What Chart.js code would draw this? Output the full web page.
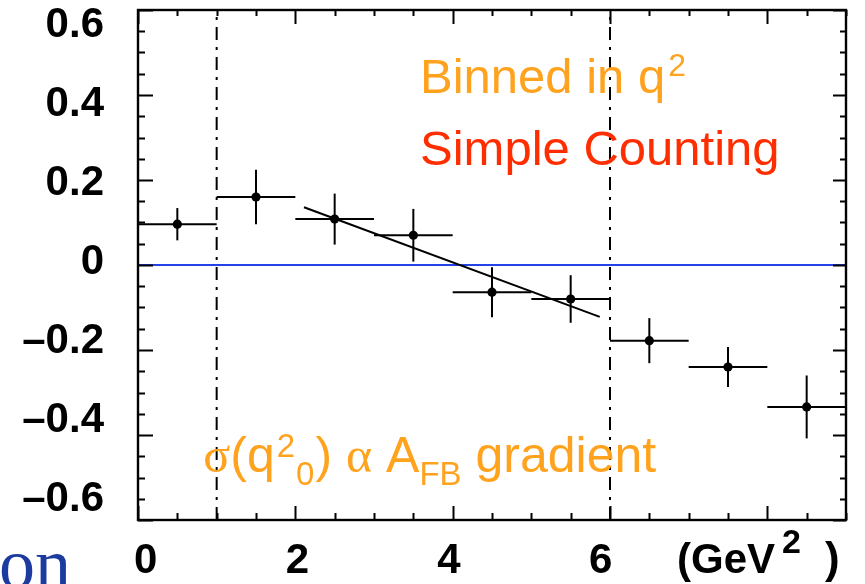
<!DOCTYPE html>
<html>
<head>
<meta charset="utf-8">
<script src="https://cdn.jsdelivr.net/npm/chart.js@4"></script>
<style>
  html, body { margin: 0; padding: 0; background: #fff; overflow: hidden; }
  canvas { display: block; }
</style>
</head>
<body>
<canvas id="afbChart" width="865" height="584"></canvas>
<script>
// q^2 bins (GeV^2) and the measured forward-backward asymmetry per bin
const binLow    = [0, 1, 2, 3, 4, 5, 6, 7, 8];
const binHigh   = [1, 2, 3, 4, 5, 6, 7, 8, 9];
const binCenter = [0.5, 1.5, 2.5, 3.5, 4.5, 5.5, 6.5, 7.5, 8.5];
const afb       = [0.096, 0.160, 0.108, 0.070, -0.064, -0.080, -0.178, -0.240, -0.334];
const afbErr    = [0.038, 0.064, 0.060, 0.062, 0.059, 0.056, 0.053, 0.047, 0.074];

// straight-line fit through the zero crossing
const fitX = [2.11, 5.87];
const fitY = [0.136, -0.122];

// boundaries of the fit window
const fitWindow = [1, 6];

// axis tick labels
const xTickLabels = [0, 2, 4, 6];
const yTickLabels = [0.6, 0.4, 0.2, 0, -0.2, -0.4, -0.6];

const SANS  = '"Liberation Sans", Arial, Helvetica, sans-serif';
const SERIF = '"Liberation Serif", "Times New Roman", serif';
const ORANGE = '#ffa31f';
const RED    = '#ff2e00';

// ---- datasets -------------------------------------------------------------
const datasets = [];

// measured points
datasets.push({
  label: 'AFB',
  data: binCenter.map((x, i) => ({ x, y: afb[i] })),
  pointRadius: 4.6,
  pointBackgroundColor: '#000',
  pointBorderColor: '#000',
  pointBorderWidth: 0,
  showLine: false,
  order: 0
});

// error bars (vertical) and bin widths (horizontal)
binCenter.forEach((x, i) => {
  datasets.push({
    data: [{ x, y: afb[i] - afbErr[i] }, { x, y: afb[i] + afbErr[i] }],
    showLine: true, borderColor: '#000', borderWidth: 2, pointRadius: 0, order: 1
  });
  datasets.push({
    data: [{ x: binLow[i], y: afb[i] }, { x: binHigh[i], y: afb[i] }],
    showLine: true, borderColor: '#000', borderWidth: 2, pointRadius: 0, order: 1
  });
});

// linear fit
datasets.push({
  data: fitX.map((x, i) => ({ x, y: fitY[i] })),
  showLine: true, borderColor: '#000', borderWidth: 2, pointRadius: 0, order: 2
});

// dash-dotted fit window edges
fitWindow.forEach(x => {
  datasets.push({
    data: [{ x, y: -0.6 }, { x, y: 0.6 }],
    showLine: true, borderColor: '#000', borderWidth: 2,
    borderDash: [13, 7, 3, 7], pointRadius: 0, order: 3
  });
});

// zero line
datasets.push({
  data: [{ x: 0, y: 0 }, { x: 9, y: 0 }],
  showLine: true, borderColor: '#2443e6', borderWidth: 2.2, pointRadius: 0, order: 4
});

// ---- helpers --------------------------------------------------------------
function drawRuns(ctx, x, y, runs) {
  ctx.textAlign = 'left';
  ctx.textBaseline = 'alphabetic';
  for (const r of runs) {
    ctx.font = r.font;
    ctx.fillStyle = r.color;
    ctx.fillText(r.t, x, y + (r.dy || 0));
    x += ctx.measureText(r.t).width + (r.gap || 0);
  }
}

function fmtY(v) {
  if (v === 0) return '0';
  return (v < 0 ? '\u2013' : '') + Math.abs(v).toFixed(1);
}

// ROOT-style frame with inward ticks, labels and annotations
const framePlugin = {
  id: 'frame',
  afterDraw(chart) {
    const { ctx, chartArea: a, scales } = chart;
    const { x, y, xLab, yLab } = scales;
    ctx.save();
    ctx.strokeStyle = '#000';
    ctx.lineCap = 'butt';

    // ticks on x (every 0.5, long every 2)
    ctx.lineWidth = 2;
    for (let k = 0; k <= 18; k++) {
      const px = Math.round(x.getPixelForValue(k * 0.5)) + 0.5;
      const major = k % 4 === 0;
      ctx.beginPath();
      ctx.moveTo(px, a.bottom); ctx.lineTo(px, a.bottom - (major ? 14 : 7));
      ctx.moveTo(px, a.top);    ctx.lineTo(px, a.top + (major ? 14 : 6));
      ctx.stroke();
    }
    // ticks on y (every 0.05, long every 0.2)
    for (let k = -12; k <= 12; k++) {
      const py = Math.round(y.getPixelForValue(k * 0.05)) + 0.5;
      const major = k % 4 === 0;
      ctx.beginPath();
      ctx.moveTo(a.left, py);  ctx.lineTo(a.left + (major ? 15 : 7), py);
      ctx.moveTo(a.right, py); ctx.lineTo(a.right - (major ? 13 : 6), py);
      ctx.stroke();
    }

    // frame
    ctx.lineWidth = 2.4;
    ctx.strokeRect(a.left, a.top, a.right - a.left, a.bottom - a.top);

    // y labels
    ctx.fillStyle = '#000';
    ctx.font = `bold 42px ${SANS}`;
    ctx.textAlign = 'right';
    ctx.textBaseline = 'middle';
    yTickLabels.forEach(v => ctx.fillText(fmtY(v), 104, yLab.getPixelForValue(v)));

    // x labels
    ctx.textAlign = 'center';
    ctx.textBaseline = 'alphabetic';
    xTickLabels.forEach(v => ctx.fillText(String(v), xLab.getPixelForValue(v), a.bottom + 53));

    // unit
    drawRuns(ctx, a.right - 169, a.bottom + 53, [
      { t: '(GeV', font: `bold 42px ${SANS}`, color: '#000' }
    ]);
    drawRuns(ctx, a.right - 64, a.bottom + 33, [
      { t: '2', font: `bold 34px ${SANS}`, color: '#000' }
    ]);
    drawRuns(ctx, a.right - 21, a.bottom + 53, [
      { t: ')', font: `bold 44px ${SANS}`, color: '#000' }
    ]);

    // annotations
    drawRuns(ctx, x.getPixelForValue(3.585), y.getPixelForValue(0.405), [
      { t: 'Binned in q', font: `49px ${SANS}`, color: ORANGE, gap: 3 },
      { t: '2', font: `32px ${SANS}`, color: ORANGE, dy: -17 }
    ]);
    drawRuns(ctx, x.getPixelForValue(3.585), y.getPixelForValue(0.235), [
      { t: 'Simple Counting', font: `49px ${SANS}`, color: RED }
    ]);
    drawRuns(ctx, x.getPixelForValue(0.83), y.getPixelForValue(-0.488), [
      { t: '\u03c3', font: `50px ${SERIF}`, color: ORANGE },
      { t: '(q', font: `50px ${SANS}`, color: ORANGE, gap: 2 },
      { t: '2', font: `33px ${SANS}`, color: ORANGE, dy: -15, gap: 1 },
      { t: '0', font: `33px ${SANS}`, color: ORANGE, dy: 13, gap: 1 },
      { t: ') ', font: `50px ${SANS}`, color: ORANGE },
      { t: '\u03b1', font: `50px ${SERIF}`, color: ORANGE },
      { t: ' A', font: `50px ${SANS}`, color: ORANGE },
      { t: 'FB', font: `33px ${SANS}`, color: ORANGE, dy: 13 },
      { t: ' gradient', font: `50px ${SANS}`, color: ORANGE }
    ]);

    // neighbouring caption fragment
    ctx.font = `72px ${SERIF}`;
    ctx.fillStyle = '#1b3b9e';
    ctx.textAlign = 'left';
    ctx.textBaseline = 'alphabetic';
    ctx.fillText('on', -1, 588);

    ctx.restore();
  }
};

new Chart(document.getElementById('afbChart'), {
  type: 'scatter',
  data: { datasets },
  options: {
    responsive: false,
    devicePixelRatio: 1,
    animation: false,
    events: [],
    layout: { padding: { left: 138, right: 19, top: 10, bottom: 64 } },
    plugins: { legend: { display: false }, tooltip: { enabled: false } },
    scales: {
      x:    { type: 'linear', min: 0, max: 9, display: false },
      y:    { type: 'linear', min: -0.6, max: 0.6, display: false },
      xLab: { type: 'linear', axis: 'x', position: 'bottom', min: -0.10, max: 9.233, display: false },
      yLab: { type: 'linear', axis: 'y', position: 'left', min: -0.652, max: 0.639, display: false }
    }
  },
  plugins: [framePlugin]
});
</script>
</body>
</html>
